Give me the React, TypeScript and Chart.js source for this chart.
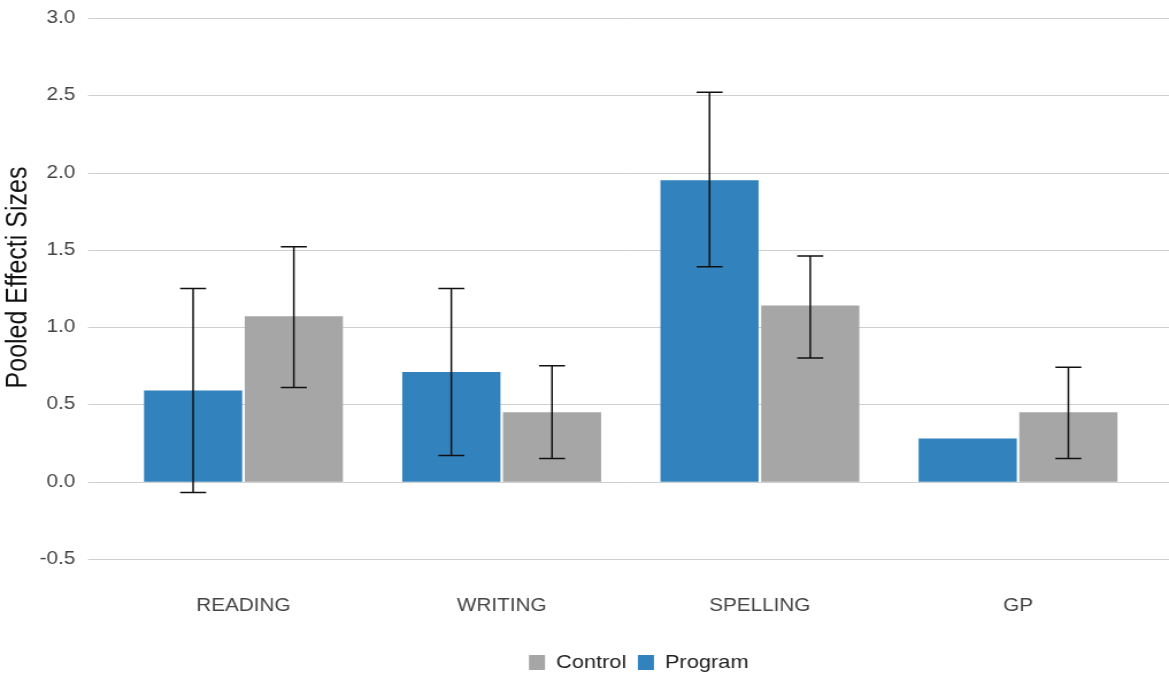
import React, { useEffect, useRef } from "react";
import { Chart, registerables } from "chart.js";

Chart.register(...registerables);

const categories = ["READING", "WRITING", "SPELLING", "GP"];
const programValues = [0.59, 0.71, 1.95, 0.28];
const programLow: (number | null)[] = [-0.07, 0.17, 1.39, null];
const programHigh: (number | null)[] = [1.25, 1.25, 2.52, null];
const controlValues = [1.07, 0.45, 1.14, 0.45];
const controlLow: (number | null)[] = [0.61, 0.15, 0.8, 0.15];
const controlHigh: (number | null)[] = [1.52, 0.75, 1.46, 0.74];
const yTicks = [-0.5, 0.0, 0.5, 1.0, 1.5, 2.0, 2.5, 3.0];
const yTitle = "Pooled Effecti Sizes";

const STRETCH = 1169 / 1017;
const FONT = "'Liberation Sans', Arial, sans-serif";

const gridPlugin = {
  id: "fullGrid",
  beforeDatasetsDraw(chart: any) {
    const y = chart.scales.y;
    const ctx = chart.ctx;
    ctx.save();
    ctx.strokeStyle = "#cfcfcf";
    ctx.lineWidth = 1;
    ctx.beginPath();
    y.ticks.forEach((t: any) => {
      const py = Math.round(y.getPixelForValue(t.value)) + 0.5;
      ctx.moveTo(88 / STRETCH, py);
      ctx.lineTo(chart.width, py);
    });
    ctx.stroke();
    ctx.restore();
  },
};

const titlePlugin = {
  id: "yTitle",
  afterDraw(chart: any) {
    const ctx = chart.ctx;
    const area = chart.chartArea;
    ctx.save();
    ctx.translate(18 / STRETCH, (area.top + area.bottom) / 2 - 11);
    ctx.rotate(-Math.PI / 2);
    ctx.textAlign = "center";
    ctx.textBaseline = "middle";
    ctx.fillStyle = "#111";
    ctx.font = `25px ${FONT}`;
    ctx.fillText(yTitle, 0, 0);
    ctx.restore();
  },
};

const legendShiftPlugin = {
  id: "legendShift",
  afterLayout(chart: any) {
    const lg = chart.legend;
    if (!lg) return;
    const dx = 8 / STRETCH;
    lg.left += dx;
    lg.right += dx;
  },
};

const errorPlugin = {
  id: "errorBars",
  afterDatasetsDraw(chart: any) {
    const ctx = chart.ctx;
    const y = chart.scales.y;
    const half = 26 / STRETCH / 2;
    ctx.save();
    ctx.strokeStyle = "#111";
    ctx.lineWidth = 1.5;
    chart.data.datasets.forEach((ds: any, i: number) => {
      const meta = chart.getDatasetMeta(i);
      meta.data.forEach((bar: any, j: number) => {
        const lo = ds.errLow[j];
        const hi = ds.errHigh[j];
        if (lo == null || hi == null) return;
        const x = bar.x;
        const yl = y.getPixelForValue(lo);
        const yh = y.getPixelForValue(hi);
        ctx.beginPath();
        ctx.moveTo(x, yl);
        ctx.lineTo(x, yh);
        ctx.moveTo(x - half, yl);
        ctx.lineTo(x + half, yl);
        ctx.moveTo(x - half, yh);
        ctx.lineTo(x + half, yh);
        ctx.stroke();
      });
    });
    ctx.restore();
  },
};

export default function App() {
  const ref = useRef<HTMLCanvasElement>(null);

  useEffect(() => {
    if (!ref.current) return;
    const chart = new Chart(ref.current, {
      type: "bar",
      data: {
        labels: categories,
        datasets: [
          {
            label: "Program",
            data: programValues,
            backgroundColor: "#3182bd",
            errLow: programLow,
            errHigh: programHigh,
          } as any,
          {
            label: "Control",
            data: controlValues,
            backgroundColor: "#a6a6a6",
            errLow: controlLow,
            errHigh: controlHigh,
          } as any,
        ],
      },
      options: {
        responsive: false,
        animation: false,
        layout: { padding: { top: 18, right: 19, left: 0, bottom: 0 } },
        datasets: {
          bar: { categoryPercentage: 0.78, barPercentage: 0.975 },
        },
        plugins: {
          legend: {
            position: "bottom",
            fullSize: false,
            reverse: true,
            labels: {
              boxWidth: 14,
              boxHeight: 15,
              padding: 10,
              color: "#222",
              font: { family: FONT, size: 19 },
            },
          },
          tooltip: { enabled: false },
        },
        scales: {
          x: {
            grid: { display: false, drawTicks: false },
            border: { display: false },
            ticks: {
              padding: 36,
              color: "#444",
              font: { family: FONT, size: 18 },
            },
            afterFit(scale: any) {
              scale.height = 84;
            },
          },
          y: {
            min: -0.5,
            max: 3.0,
            grid: { display: false, drawTicks: false },
            border: { display: false },
            afterBuildTicks(scale: any) {
              scale.ticks = yTicks.map((v) => ({ value: v }));
            },
            ticks: {
              padding: 34,
              color: "#444",
              font: { family: FONT, size: 18 },
              callback: (v: any) => Number(v).toFixed(1),
            },
            title: { display: false },
            afterFit(scale: any) {
              scale.width = 99.5;
              scale.paddingTop = 0;
              scale.paddingBottom = 0;
            },
          },
        },
      },
      plugins: [gridPlugin, errorPlugin, titlePlugin, legendShiftPlugin],
    });
    return () => chart.destroy();
  }, []);

  return (
    <div
      style={{
        position: "fixed",
        left: 0,
        top: 0,
        width: 1169,
        height: 675,
        overflow: "hidden",
        background: "#fff",
      }}
    >
      <canvas
        ref={ref}
        width={1017}
        height={682}
        style={{ width: "1169px", height: "682px", display: "block" }}
      />
    </div>
  );
}
